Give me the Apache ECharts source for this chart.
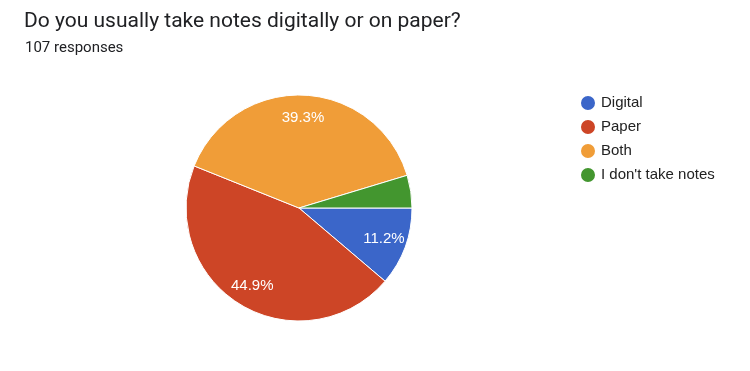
<!DOCTYPE html>
<html>
<head>
<meta charset="utf-8">
<script src="https://cdn.jsdelivr.net/npm/echarts@6/dist/echarts.min.js"></script>
<style>
	html, body {
		margin: 0;
		padding: 0;
		background: #fff;
	}
	#chart {
		width: 750px;
		height: 371px;
	}
</style>
</head>
<body>
<div id="chart"></div>
<script>
const categories = ["Digital", "Paper", "Both", "I don't take notes"];
const responses = [12, 48, 42, 5];
const colors = ["#3b66c9", "#cd4526", "#f09d38", "#43962f"];

const total = responses.reduce((a, b) => a + b, 0);
const pieData = categories.map((name, i) => ({name: name, value: responses[i]}));

const chart = echarts.init(document.getElementById("chart"));
chart.setOption({
	color: colors,
	animation: false,
	title: [
		{
			text: "Do you usually take notes digitally or on paper?",
			left: 19,
			top: 6,
			textStyle: {
				fontFamily: "Roboto",
				fontSize: 21,
				fontWeight: "normal",
				color: "#202124"
			}
		},
		{
			text: total + " responses",
			left: 20,
			top: 36,
			textStyle: {
				fontFamily: "Roboto",
				fontSize: 15,
				fontWeight: "normal",
				color: "#202124"
			}
		}
	],
	legend: {
		orient: "vertical",
		left: 574,
		top: 89,
		icon: "circle",
		itemWidth: 16,
		itemHeight: 16,
		itemGap: 6,
		textStyle: {
			fontFamily: "Liberation Sans",
			fontSize: 15,
			lineHeight: 16,
			color: "#222222"
		},
		data: categories
	},
	series: [
		{
			type: "pie",
			center: [299, 208],
			radius: [0, 113],
			startAngle: 0,
			clockwise: true,
			label: {show: false},
			labelLine: {show: false},
			emphasis: {disabled: true},
			itemStyle: {
				borderColor: "#ffffff",
				borderWidth: 1
			},
			data: pieData
		},
		{
			// only carries the percent labels, at the same spot Google Charts uses
			type: "pie",
			center: [299, 208],
			radius: [62, 113],
			startAngle: 0,
			clockwise: true,
			silent: true,
			legendHoverLink: false,
			itemStyle: {color: "rgba(0,0,0,0)"},
			label: {
				show: true,
				position: "inside",
				fontFamily: "Liberation Sans",
				fontSize: 15,
				color: "#ffffff",
				formatter: function (p) {
					const pct = p.value / total * 100;
					return pct < 5 ? "" : pct.toFixed(1) + "%";
				}
			},
			labelLine: {show: false},
			data: pieData
		}
	]
});
</script>
</body>
</html>
